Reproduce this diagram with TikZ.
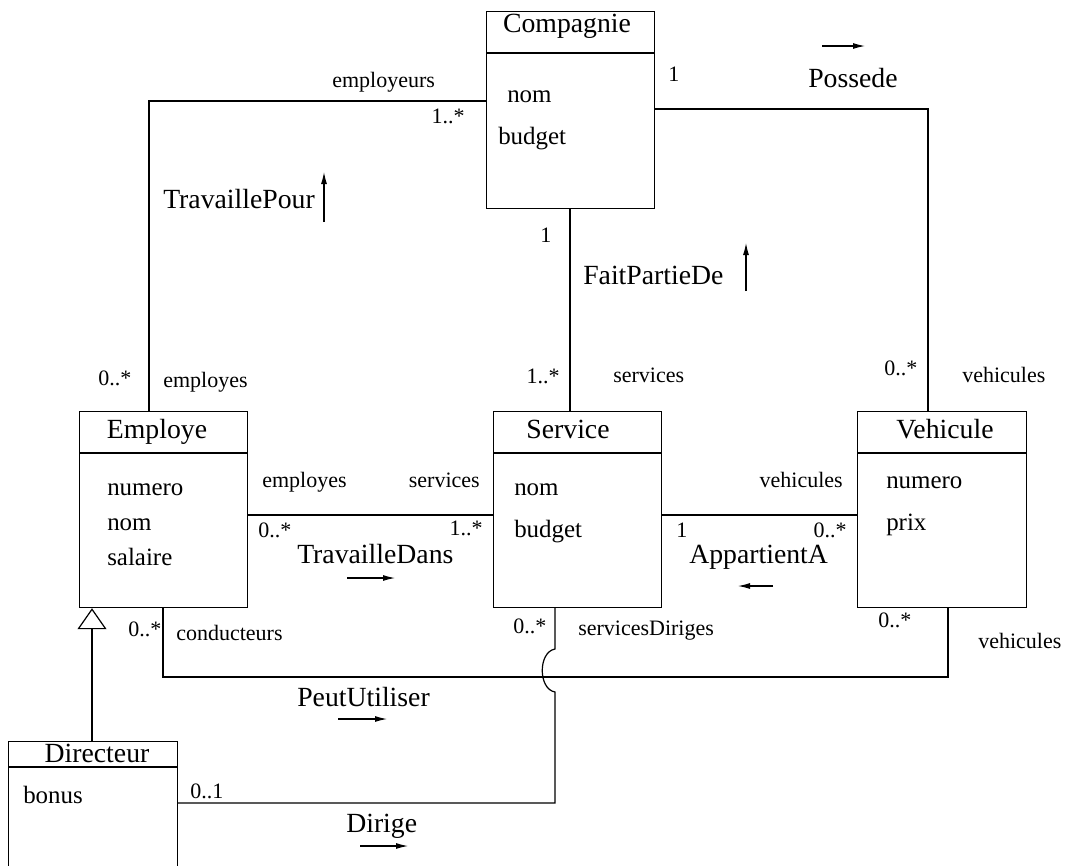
\documentclass[tikz,border=0pt]{standalone}
\usepackage{fontspec}
\setmainfont{Liberation Serif}
\usetikzlibrary{arrows.meta}
\begin{document}
\begin{tikzpicture}[x=0.75pt,y=-0.75pt,
  classbox/.style={draw,line width=0.9pt,inner sep=0,anchor=north west,minimum width=126pt,minimum height=147pt},
  title/.style={font=\fontsize{20.8}{24}\selectfont,inner sep=0,anchor=base},
  big/.style={font=\fontsize{20.8}{24}\selectfont,inner sep=0,anchor=base west},
  attr/.style={font=\fontsize{18.7}{22}\selectfont,inner sep=0,anchor=base west},
  lbl/.style={font=\fontsize{16.5}{20}\selectfont,inner sep=0,anchor=base west},
  lblr/.style={font=\fontsize{16.5}{20}\selectfont,inner sep=0,anchor=base east},
  link/.style={line width=0.9pt},
  nav/.style={-{Latex[length=9pt,width=4.5pt]},line width=0.8pt},
  gen/.style={-{Triangle[open,length=15.75pt,width=21.75pt]},line width=0.9pt}]
\useasboundingbox (0,0) rectangle (1067,865);
\clip (0,0) rectangle (1067,865);

% class boxes
\node[classbox,minimum height=147.75pt] (comp) at (486,11) {};
\node[classbox] (emp) at (79,411) {};
\node[classbox] (serv) at (493,411) {};
\node[classbox,minimum width=126.75pt] (veh) at (857,411) {};
\node[classbox,minimum width=126.75pt,minimum height=120pt] (dir) at (8,741) {};

% header separators
\draw[link] ([yshift=-31.5pt]comp.north west) -- ([yshift=-31.5pt]comp.north east);
\draw[link] ([yshift=-31.5pt]emp.north west) -- ([yshift=-31.5pt]emp.north east);
\draw[link] ([yshift=-31.5pt]serv.north west) -- ([yshift=-31.5pt]serv.north east);
\draw[link] ([yshift=-31.5pt]veh.north west) -- ([yshift=-31.5pt]veh.north east);
\draw[link] ([yshift=-19.5pt]dir.north west) -- ([yshift=-19.5pt]dir.north east);

% class contents
\node[title] (tcomp) at (567,32) {Compagnie};
\node[attr] (acomp1) at (507,102) {nom};
\node[attr] (acomp2) at (498,144) {budget};

\node[title] (temp) at (157,438) {Employe};
\node[attr] (aemp1) at (107,495) {numero};
\node[attr] (aemp2) at (107,530) {nom};
\node[attr] (aemp3) at (107,565) {salaire};

\node[title] (tserv) at (568,438) {Service};
\node[attr] (aserv1) at (514,495) {nom};
\node[attr] (aserv2) at (514,537) {budget};

\node[title] (tveh) at (945,438) {Vehicule};
\node[attr] (aveh1) at (886,488) {numero};
\node[attr] (aveh2) at (886,530) {prix};

\node[title] (tdir) at (97,762) {Directeur};
\node[attr] (adir1) at (23,803) {bonus};

% connectors
\coordinate (tp) at (149,101);
\draw[link] (emp.north -| tp) -- (tp) -- (comp.west |- tp);

\coordinate (po) at (928,109);
\draw[link] (comp.east |- po) -- (po) -- (veh.north -| po);

\coordinate (fp) at (570,300);
\draw[link] (comp.south -| fp) -- (serv.north -| fp);

\coordinate (td) at (400,515);
\draw[link] (emp.east |- td) -- (serv.west |- td);
\draw[link] (serv.east |- td) -- (veh.west |- td);

\coordinate (pu1) at (163,677);
\coordinate (pu2) at (948,677);
\draw[link] (emp.south -| pu1) -- (pu1) -- (pu2) -- (veh.south -| pu2);

\coordinate (hopa) at (555,649);
\coordinate (hopb) at (555,692);
\coordinate (di) at (555,803);
\draw[link] (serv.south -| di) -- (hopa) .. controls (538,652) and (538,689) .. (hopb) -- (di) -- (dir.east |- di);

\coordinate (gn) at (92,700);
\draw[gen] (dir.north -| gn) -- (emp.south -| gn);

% association names and navigation arrows
\node[big] (nTP) at (163,208) {TravaillePour};
\coordinate (aTP1) at (324,222); \coordinate (aTP2) at (324,172);
\draw[nav] (aTP1) -- (aTP2);

\node[big] (nPO) at (808,87) {Possede};
\coordinate (aPO1) at (822,46); \coordinate (aPO2) at (865,46);
\draw[nav] (aPO1) -- (aPO2);

\node[big] (nFP) at (583,284) {FaitPartieDe};
\coordinate (aFP1) at (746,291); \coordinate (aFP2) at (746,243);
\draw[nav] (aFP1) -- (aFP2);

\node[big] (nTD) at (297,563) {TravailleDans};
\coordinate (aTD1) at (347,578); \coordinate (aTD2) at (395,578);
\draw[nav] (aTD1) -- (aTD2);

\node[big] (nAA) at (689,563) {AppartientA};
\coordinate (aAA1) at (773,586); \coordinate (aAA2) at (738,586);
\draw[nav] (aAA1) -- (aAA2);

\node[big] (nPU) at (297,706) {PeutUtiliser};
\coordinate (aPU1) at (338,719); \coordinate (aPU2) at (387,719);
\draw[nav] (aPU1) -- (aPU2);

\node[big] (nDI) at (346,832) {Dirige};
\coordinate (aDI1) at (360,846); \coordinate (aDI2) at (408,846);
\draw[nav] (aDI1) -- (aDI2);

% roles and multiplicities
\node[lbl] (r1) at (332,87) {employeurs};
\node[lblr] (m1) at (465,123) {1..*};
\node[lbl] (m2) at (668,81) {1};
\node[lbl] (m3) at (540,242) {1};
\node[lblr] (m4) at (560,383) {1..*};
\node[lbl] (r2) at (613,382) {services};
\node[lbl] (m5) at (98,385) {0..*};
\node[lbl] (r3) at (163,387) {employes};
\node[lbl] (m6) at (884,375) {0..*};
\node[lbl] (r4) at (962,382) {vehicules};

\node[lbl] (r5) at (262,487) {employes};
\node[lblr] (r6) at (480,487) {services};
\node[lbl] (m7) at (258,537) {0..*};
\node[lblr] (m8) at (483,535) {1..*};
\node[lblr] (r7) at (843,487) {vehicules};
\node[lbl] (m9) at (676,537) {1};
\node[lblr] (m10) at (847,537) {0..*};

\node[lbl] (m11) at (128,636) {0..*};
\node[lbl] (r8) at (176,640) {conducteurs};
\node[lbl] (m12) at (513,633) {0..*};
\node[lbl] (r9) at (578,635) {servicesDiriges};
\node[lbl] (m13) at (878,627) {0..*};
\node[lbl] (r10) at (978,648) {vehicules};
\node[lbl] (m14) at (190,798) {0..1};
\end{tikzpicture}
\end{document}
